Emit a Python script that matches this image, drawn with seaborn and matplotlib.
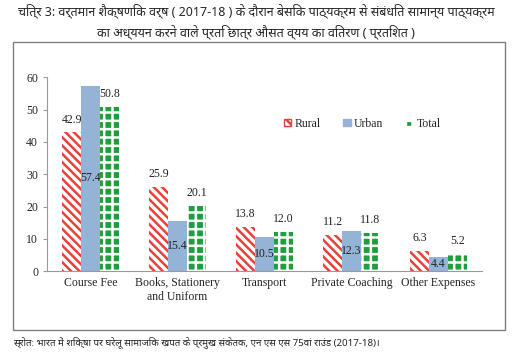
import matplotlib
matplotlib.use("Agg")
import matplotlib.pyplot as plt
import seaborn as sns
import pandas as pd
from matplotlib.patches import Rectangle, Patch

categories = ["Course Fee", "Books, Stationery\nand Uniform", "Transport", "Private Coaching", "Other Expenses"]
rural = [42.9, 25.9, 13.8, 11.2, 6.3]
urban = [57.4, 15.4, 10.5, 12.3, 4.4]
total = [50.8, 20.1, 12.0, 11.8, 5.2]
series = ["Rural", "Urban", "Total"]

title = ("चित्र 3: वर्तमान शैक्षणिक वर्ष ( 2017-18 ) के दौरान बेसिक पाठ्यक्रम से संबंधित सामान्य पाठ्यक्रम\n"
         "का अध्ययन करने वाले प्रति छात्र औसत व्यय का वितरण ( प्रतिशत )")
source = "स्रोत: भारत में शिक्षा पर घरेलू सामाजिक खपत के प्रमुख संकेतक, एन एस एस 75वां राउंड (2017-18)।"

df = pd.DataFrame({
    "category": categories * 3,
    "series": [s for s in series for _ in categories],
    "value": rural + urban + total,
})

sns.set_style("white")
plt.rcParams["font.family"] = ["Liberation Serif", "DejaVu Serif"]
plt.rcParams["hatch.linewidth"] = 1.8

fig = plt.figure(figsize=(5.12, 3.54), dpi=100)
ax = fig.add_axes([0.092, 0.234, 0.849, 0.548])

ax = sns.barplot(df, x="category", y="value", hue="series", hue_order=series,
                 order=categories, width=0.65, gap=0, ax=ax, legend=False,
                 palette=["white", "#95B3D7", "white"], saturation=1)

styles = {
    "Rural": dict(hatch="\\\\\\\\", edgecolor="#E8403A", facecolor="white"),
    "Urban": dict(hatch=None, edgecolor="#95B3D7", facecolor="#95B3D7"),
    "Total": dict(hatch="++", edgecolor="white", facecolor="#1E9E3C"),
}
for cont, s in zip(ax.containers, series):
    for bar in cont:
        bar.set_facecolor(styles[s]["facecolor"])
        bar.set_edgecolor(styles[s]["edgecolor"])
        bar.set_linewidth(0)
        if styles[s]["hatch"]:
            bar.set_hatch(styles[s]["hatch"])
    if s == "Urban":
        ax.bar_label(cont, fmt="%.1f", label_type="center", fontsize=8.5, color="#222222")
    else:
        ax.bar_label(cont, fmt="%.1f", padding=5, fontsize=8.5, color="#222222")

ax.set_ylim(0, 60)
ax.set_xlim(-0.5, 4.5)
ax.set_yticks(range(0, 61, 10))
ax.set_xlabel("")
ax.set_ylabel("")
ax.set_xticks([i - 0.5 for i in range(6)], minor=True)
ax.tick_params(axis="x", which="major", length=0, labelsize=8.5, pad=4)
ax.tick_params(axis="x", which="minor", length=3, color="#999999", direction="out")
ax.tick_params(axis="y", length=3, color="#999999", direction="out", labelsize=8.5, left=True)
for side in ["top", "right"]:
    ax.spines[side].set_visible(False)
for side in ["left", "bottom"]:
    ax.spines[side].set_color("#999999")
    ax.spines[side].set_linewidth(0.8)

handles = [Patch(**styles[s]) for s in series]
fig.legend(handles, series, loc="center", bbox_to_anchor=(0.708, 0.65), ncol=3,
           frameon=False, fontsize=8.5, handlelength=0.6, handleheight=0.6,
           columnspacing=1.9, handletextpad=0.3)

fig.patches.append(Rectangle((13 / 512, 1 - 330 / 354), 492 / 512, 288 / 354,
                             transform=fig.transFigure, fill=False,
                             edgecolor="#7F7F7F", linewidth=1))

fig.text(0.5, 1 - 21 / 354, title, ha="center", va="center", fontsize=9, fontweight="bold",
         family=["Noto Sans", "DejaVu Sans"], linespacing=1.55)
fig.text(13 / 512, 1 - 342 / 354, source, ha="left", va="center", fontsize=7,
         family=["Noto Sans", "DejaVu Sans"])

fig.savefig("out.png", dpi=100)
